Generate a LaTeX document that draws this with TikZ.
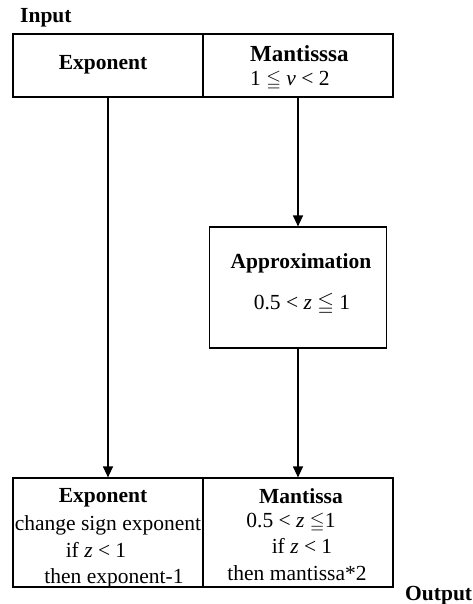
\documentclass[tikz,border=0pt]{standalone}
\usepackage{fontspec}
\usepackage{amssymb}
\setmainfont{Liberation Serif}
\usetikzlibrary{arrows.meta}
\newcommand{\myleq}{{\fontsize{19}{20}\selectfont$\leqq$}}
\begin{document}
\begin{tikzpicture}[x=1pt,y=-1pt,
  every node/.style={font=\fontsize{21.5}{25}\selectfont, inner sep=0pt},
  txt/.style={anchor=base},
  bld/.style={anchor=base, font=\fontsize{21.5}{25}\selectfont\bfseries},
  arr/.style={line width=1.2pt, -{Triangle[length=11pt,width=10pt]}}]
\useasboundingbox (0,0) rectangle (473,604);
% boxes
\node[draw, line width=1.2pt, minimum width=190pt, minimum height=63pt] (topL) at (108,65.5) {};
\node[draw, line width=1.2pt, minimum width=190pt, minimum height=63pt] (topR) at (298,65.5) {};
\node[draw, line width=1.2pt, minimum width=177pt, minimum height=121pt] (approx) at (298,287.5) {};
\node[draw, line width=1.2pt, minimum width=190pt, minimum height=109pt] (botL) at (108,532.5) {};
\node[draw, line width=1.2pt, minimum width=190pt, minimum height=109pt] (botR) at (298,532.5) {};
% labels
\node[bld, anchor=base west] (input) at (20,23) {Input};
\node[bld, anchor=base west] (output) at (405,600) {Output};
\node[bld] (tExp) at (103,70) {Exponent};
\node[bld, anchor=base west, font=\fontsize{23}{25}\selectfont\bfseries] (tMan) at (250,62) {Mantisssa};
\node[txt, anchor=base west] (tV) at (250,86) {1 \myleq{} \textit{v} < 2};
\node[bld] (tApp) at (301,268) {Approximation};
\node[txt] (tZ) at (302,309) {0.5 < \textit{z} $\leqq$ 1};
\node[bld] (bExp) at (103,502) {Exponent};
\node[txt] (bE1) at (108,530) {change sign exponent};
\node[txt] (bE2) at (96,557) {if \textit{z} < 1};
\node[txt] (bE3) at (114,583) {then exponent-1};
\node[bld] (bMan) at (301,503) {Mantissa};
\node[txt] (bM1) at (291,527) {0.5 < \textit{z} \myleq1};
\node[txt] (bM2) at (302,553) {if \textit{z} < 1};
\node[txt] (bM3) at (297,580) {then mantissa*2};
% arrows
\draw[arr] (topL.south) -- (botL.north);
\draw[arr] (topR.south) -- (approx.north);
\draw[arr] (approx.south) -- (botR.north);
\end{tikzpicture}
\end{document}
